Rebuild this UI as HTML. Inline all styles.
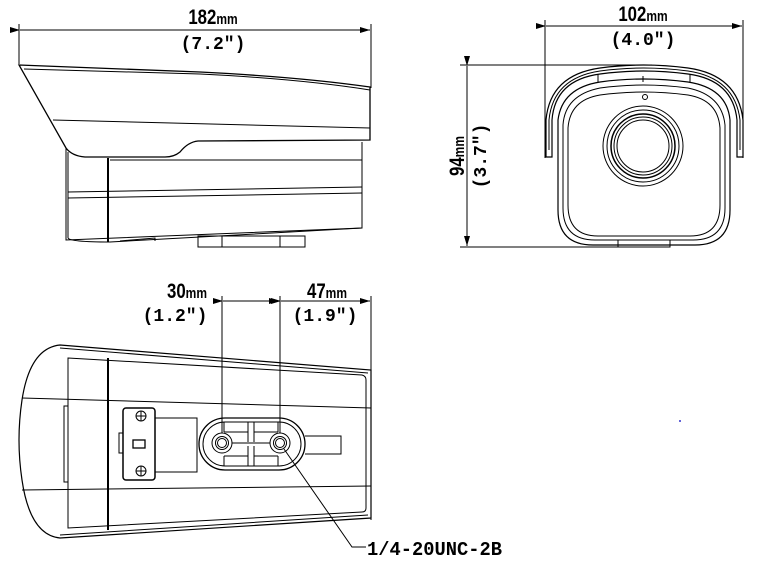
<!DOCTYPE html>
<html><head><style>
html,body{margin:0;padding:0;background:#fff}
svg{display:block}
text{font-weight:bold;fill:#000}
.s{font-family:"Liberation Sans",sans-serif}
.m{font-family:"Liberation Mono",monospace}
</style></head><body>
<svg width="760" height="572" viewBox="0 0 760 572" xmlns="http://www.w3.org/2000/svg">
<defs>
<marker id="a" markerWidth="10" markerHeight="6" refX="10" refY="3" orient="auto" markerUnits="userSpaceOnUse"><path d="M0,0 L10,3 L0,6 Z" fill="#000"/></marker>
</defs>
<g fill="none" stroke="#000" stroke-width="1">
<line x1="19" y1="24" x2="19" y2="64"/>
<line x1="371" y1="24" x2="371" y2="88"/>
<line x1="20" y1="30" x2="370" y2="30" marker-start="url(#a)" marker-end="url(#a)"/>
<path d="M19,65 L200,72 Q300,77 370,87 L370,140 L198,141 Q188,142 180,152 Q174,157 165,157 L85,157 Q72,156 66,148 Z" stroke-width="1.3"/>
<path d="M24,69 L200,74 Q300,79 370,90"/>
<path d="M53,120 L370,128"/>
<path d="M66,148 L66,240 L362,228 L362,142"/>
<path d="M68,152 L68,238"/>
<line x1="108" y1="158" x2="108" y2="242" stroke-width="2"/>
<path d="M110,160 L362,160"/>
<path d="M68,192 L362,187"/>
<path d="M68,198 L362,193"/>
<path d="M68,238 Q70,242 110,242 L362,228"/>
<path d="M120,241 L155,238 L155,241"/>
<rect x="198" y="236" width="107" height="11"/>
<line x1="222" y1="236" x2="222" y2="247"/>
<line x1="280" y1="236" x2="280" y2="247"/>

<line x1="545" y1="20" x2="545" y2="158"/>
<line x1="743" y1="20" x2="743" y2="158"/>
<line x1="546" y1="26" x2="742" y2="26" marker-start="url(#a)" marker-end="url(#a)"/>
<line x1="460" y1="65" x2="652" y2="65"/>
<line x1="460" y1="247" x2="665" y2="247"/>
<line x1="467" y1="66" x2="467" y2="246" marker-start="url(#a)" marker-end="url(#a)"/>
<path d="M546,157 L546,120 Q550,75 600,68 Q643,62 688,68 Q738,75 743,120 L743,157 L737,157 L737,120 Q733,80 688,74 Q643,68 600,74 Q555,80 552,120 L552,157 Z" stroke-width="1.2"/>
<path d="M549,150 L549,120 Q553,78 600,71 Q643,65 688,71 Q735,78 740,120 L740,150"/>
<path d="M558,120 Q562,88 600,82 Q643,76 688,82 Q727,88 730,120 L730,210 Q730,245 695,245 L593,245 Q558,245 558,210 Z" stroke-width="1.2"/>
<path d="M563,125 Q565,95 600,88 Q643,82 688,88 Q722,95 725,125 L725,208 Q725,240 693,240 L595,240 Q563,240 563,208 Z"/>
<path d="M568,128 Q570,100 600,95 Q643,89 688,95 Q718,100 720,128 L720,205 Q720,236 690,236 L598,236 Q568,236 568,205 Z"/>
<line x1="598" y1="74" x2="598" y2="82"/><line x1="690" y1="74" x2="690" y2="82"/><line x1="643" y1="76" x2="643" y2="82"/>
<circle cx="645" cy="97" r="2.5"/>
<circle cx="643" cy="146" r="40"/>
<circle cx="643" cy="146" r="36"/>
<circle cx="643" cy="146" r="32" stroke-width="1.5"/>
<circle cx="643" cy="146" r="29"/>
<circle cx="643" cy="146" r="26"/>
<rect x="618" y="240" width="52" height="7"/>

<line x1="222" y1="296" x2="222" y2="450"/>
<line x1="280" y1="296" x2="280" y2="450"/>
<line x1="371" y1="296" x2="371" y2="520"/>
<line x1="223" y1="301" x2="279" y2="301" marker-start="url(#a)" marker-end="url(#a)"/>
<line x1="281" y1="301" x2="370" y2="301" marker-start="url(#a)" marker-end="url(#a)"/>
<path d="M60,345 L371,370 L371,518 L60,538 Q30,535 22,480 Q16,440 22,400 Q30,348 60,345 Z" stroke-width="1.2"/>
<path d="M60,348 L368,373 M60,535 L368,515"/>
<path d="M68,358 L362,375 Q366,376 366,380 L366,508 Q366,512 362,512 L68,528 Z"/>
<line x1="108" y1="358" x2="108" y2="530" stroke-width="2"/>
<path d="M22,398 L371,408"/>
<path d="M22,490 L371,486"/>
<path d="M64,406 L68,406 L68,482 L64,482 Z"/>
<rect x="123" y="408" width="32" height="72" rx="3" stroke-width="1.5"/>
<rect x="119" y="433" width="4" height="20"/>
<circle cx="141" cy="416" r="5"/><path d="M136,416 h10 M141,411 v10"/>
<circle cx="141" cy="471" r="5"/><path d="M136,471 h10 M141,466 v10"/>
<rect x="133" y="440" width="12" height="8" stroke-width="1.3"/>
<rect x="155" y="418" width="42" height="54"/>
<rect x="199" y="418" width="106" height="52" rx="26" stroke-width="1.3"/>
<rect x="203" y="422" width="98" height="44" rx="22"/>
<path d="M224,422 v10 M248,422 v20 M254,422 v20 M278,422 v10 M224,466 v-10 M248,466 v-20 M254,466 v-20 M278,466 v-10"/>
<path d="M224,432 h24 M254,432 h24 M224,456 h24 M254,456 h24 M232,443 h40"/>
<circle cx="222" cy="443" r="10" fill="#fff"/><circle cx="222" cy="443" r="6.5"/><circle cx="222" cy="443" r="4.5"/>
<circle cx="280" cy="443" r="10" fill="#fff"/><circle cx="280" cy="443" r="6.5"/><circle cx="280" cy="443" r="4.5"/>
<path d="M305,436 L341,436 L341,454 L305,454"/>
<path d="M284,449 L352,547 L366,547"/>
</g>
<circle cx="680" cy="421" r="1" fill="#33c"/>

<text class="s" x="213" y="24" text-anchor="middle" font-size="21" transform="translate(213 0) scale(0.8 1) translate(-213 0)">182<tspan font-size="15">mm</tspan></text>
<text class="m" x="213" y="49" text-anchor="middle" font-size="18">(7.2″)</text>
<text class="s" x="643" y="21" text-anchor="middle" font-size="21" transform="translate(643 0) scale(0.8 1) translate(-643 0)">102<tspan font-size="15">mm</tspan></text>
<text class="m" x="643" y="45" text-anchor="middle" font-size="18">(4.0″)</text>
<text class="s" transform="translate(464 156) rotate(-90) scale(0.8 1)" text-anchor="middle" font-size="21">94<tspan font-size="15">mm</tspan></text>
<text class="m" transform="translate(486 156) rotate(-90)" text-anchor="middle" font-size="18">(3.7″)</text>
<text class="s" x="187" y="298" text-anchor="middle" font-size="21" transform="translate(187 0) scale(0.8 1) translate(-187 0)">30<tspan font-size="15">mm</tspan></text>
<text class="m" x="175" y="321" text-anchor="middle" font-size="18">(1.2″)</text>
<text class="s" x="327" y="298" text-anchor="middle" font-size="21" transform="translate(327 0) scale(0.8 1) translate(-327 0)">47<tspan font-size="15">mm</tspan></text>
<text class="m" x="325" y="321" text-anchor="middle" font-size="18">(1.9″)</text>
<text class="m" x="367" y="555" font-size="19" textLength="135" lengthAdjust="spacingAndGlyphs">1/4-20UNC-2B</text>
</svg>
</body></html>
